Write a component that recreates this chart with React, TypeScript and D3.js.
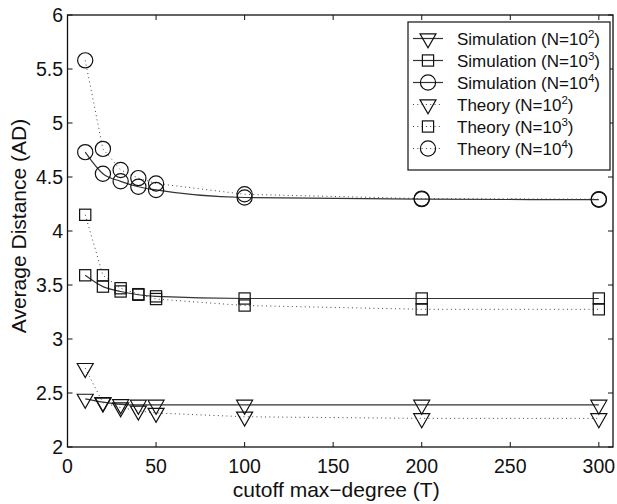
import React from "react";
import * as d3 from "d3";

const xValues = [10, 20, 30, 40, 50, 100, 200, 300];
const sim2 = [2.445, 2.415, 2.395, 2.39, 2.39, 2.39, 2.39, 2.39];
const sim3 = [3.59, 3.485, 3.44, 3.41, 3.395, 3.375, 3.375, 3.375];
const sim4 = [4.73, 4.53, 4.46, 4.41, 4.38, 4.31, 4.295, 4.29];
const th2 = [2.73, 2.41, 2.365, 2.335, 2.315, 2.28, 2.265, 2.265];
const th3 = [4.15, 3.59, 3.47, 3.415, 3.37, 3.31, 3.275, 3.275];
const th4 = [5.58, 4.76, 4.565, 4.49, 4.44, 4.34, 4.3, 4.295];
const xTicks = [0, 50, 100, 150, 200, 250, 300];
const yTicks = [2, 2.5, 3, 3.5, 4, 4.5, 5, 5.5, 6];
const legendLabels = ["Simulation", "Simulation", "Simulation", "Theory", "Theory", "Theory"];
const legendExps = ["2", "3", "4", "2", "3", "4"];

const FONT = "'Liberation Sans', Arial, Helvetica, sans-serif";
const W = 617, H = 504;
const L = 67.5, R = 613, T = 15, B = 447;

type MarkerKind = "tri" | "sq" | "circ";

function Marker({ kind, x, y }: { kind: MarkerKind; x: number; y: number }) {
  const st = { fill: "none", stroke: "#111", strokeWidth: 1.2 };
  if (kind === "circ") return <circle cx={x} cy={y} r={7.6} {...st} />;
  if (kind === "sq") return <rect x={x - 5.6} y={y - 5.6} width={11.2} height={11.2} {...st} />;
  const w = 16, h = 14;
  return (
    <path
      d={`M${x - w / 2},${y - h / 3}L${x + w / 2},${y - h / 3}L${x},${y + (2 * h) / 3}Z`}
      {...st}
    />
  );
}

export default function App() {
  const x = d3.scaleLinear().domain([0, 308]).range([L, R]);
  const y = d3.scaleLinear().domain([2, 6]).range([B, T]);
  const solid = d3
    .line<number>()
    .x((_, i) => x(xValues[i]))
    .y((d) => y(d))
    .curve(d3.curveMonotoneX);
  const straight = d3
    .line<number>()
    .x((_, i) => x(xValues[i]))
    .y((d) => y(d));

  const series: { vals: number[]; kind: MarkerKind; dotted: boolean }[] = [
    { vals: sim2, kind: "tri", dotted: false },
    { vals: sim3, kind: "sq", dotted: false },
    { vals: sim4, kind: "circ", dotted: false },
    { vals: th2, kind: "tri", dotted: true },
    { vals: th3, kind: "sq", dotted: true },
    { vals: th4, kind: "circ", dotted: true },
  ];

  const legX = 408, legY = 22, legW = 202, legH = 148;
  const rowY = (i: number) => 38.5 + i * 22;

  return (
    <svg
      width={W}
      height={H}
      style={{ position: "absolute", left: 0, top: 0, display: "block", background: "#fff" }}
      fontFamily={FONT}
    >
      <rect x={0} y={0} width={W} height={H} fill="#fff" />
      {/* lines */}
      {series.map((s, i) => (
        <path
          key={"l" + i}
          d={(s.dotted ? straight : solid)(s.vals) || ""}
          fill="none"
          stroke={s.dotted ? "#444" : "#333"}
          strokeWidth={s.dotted ? 1 : 1.2}
          strokeDasharray={s.dotted ? "1,3.3" : undefined}
        />
      ))}
      {/* markers */}
      {series.map((s, i) =>
        s.vals.map((v, j) => <Marker key={`m${i}-${j}`} kind={s.kind} x={x(xValues[j])} y={y(v)} />)
      )}
      {/* frame */}
      <rect x={L} y={T} width={R - L} height={B - T} fill="none" stroke="#111" strokeWidth={1.3} />
      {/* ticks */}
      {xTicks.map((t) => (
        <g key={"xt" + t}>
          <line x1={x(t)} x2={x(t)} y1={B} y2={B - 5} stroke="#111" strokeWidth={1} />
          <line x1={x(t)} x2={x(t)} y1={T} y2={T + 5} stroke="#111" strokeWidth={1} />
          <text x={x(t)} y={473} textAnchor="middle" fontSize={19.5} fill="#111">
            {t}
          </text>
        </g>
      ))}
      {yTicks.map((t) => (
        <g key={"yt" + t}>
          <line x1={L} x2={L + 5} y1={y(t)} y2={y(t)} stroke="#111" strokeWidth={1} />
          <line x1={R} x2={R - 5} y1={y(t)} y2={y(t)} stroke="#111" strokeWidth={1} />
          <text x={63} y={y(t) + 7} textAnchor="end" fontSize={19.5} fill="#111">
            {t}
          </text>
        </g>
      ))}
      {/* axis labels */}
      <text x={(L + R) / 2 - 4} y={497} textAnchor="middle" fontSize={21} fill="#111">
        cutoff max−degree (T)
      </text>
      <text
        transform={`translate(26,${(T + B) / 2 - 5}) rotate(-90)`}
        textAnchor="middle"
        fontSize={21}
        fill="#111"
      >
        Average Distance (AD)
      </text>
      {/* legend */}
      <rect x={legX} y={legY} width={legW} height={legH} fill="#fff" stroke="#111" strokeWidth={1.2} />
      {series.map((s, i) => {
        const ry = rowY(i);
        return (
          <g key={"lg" + i}>
            <line
              x1={413}
              x2={443}
              y1={ry}
              y2={ry}
              stroke={s.dotted ? "#444" : "#333"}
              strokeWidth={s.dotted ? 1 : 1.2}
              strokeDasharray={s.dotted ? "1,3.3" : undefined}
            />
            <Marker kind={s.kind} x={428} y={ry} />
            <text x={457} y={ry + 6} fontSize={17} fill="#111">
              {legendLabels[i]} (N=10
              <tspan dy={-7} fontSize={11.5}>
                {legendExps[i]}
              </tspan>
              <tspan dy={7}>)</tspan>
            </text>
          </g>
        );
      })}
    </svg>
  );
}
